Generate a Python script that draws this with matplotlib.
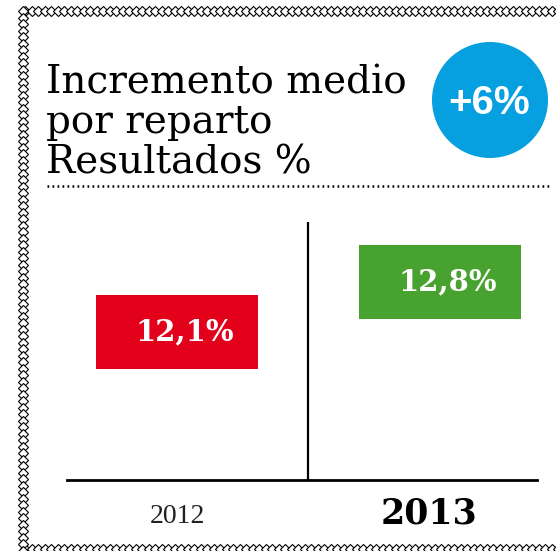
import numpy as np
import matplotlib.pyplot as plt
from matplotlib.patches import Circle

# Data
years = ["2012", "2013"]
values = [12.1, 12.8]
value_labels = ["12,1%", "12,8%"]
colors = ["#E2001A", "#48A22F"]
title_lines = ["Incremento medio", "por reparto", "Resultados %"]
badge = "+6%"

W, H = 556, 551
fig = plt.figure(figsize=(W / 100, H / 100), dpi=100)

# background layer in pixel coords
bg = fig.add_axes([0, 0, 1, 1])
bg.set_xlim(0, W)
bg.set_ylim(H, 0)
bg.axis("off")

# zigzag border (left, top, bottom)
step = 6.5
xs_top = np.arange(25, W + step, step)
ys_left = np.arange(11, H, step)
for xs, ys in [(xs_top, np.full_like(xs_top, 11)),
               (xs_top, np.full_like(xs_top, 549)),
               (np.full_like(ys_left, 23), ys_left)]:
    bg.plot(xs, ys, ls="none", marker="D", ms=4.6,
            mfc="white", mec="black", mew=0.8)

# title
for i, line in enumerate(title_lines):
    bg.text(46, 93 + i * 40, line, fontsize=28, family="DejaVu Serif",
            ha="left", va="baseline", color="black")

# badge
bg.add_patch(Circle((490, 100), 58, color="#069FDF", lw=0))
bg.text(489, 103, badge, fontsize=29, fontweight="bold", family="Liberation Sans",
        color="white", ha="center", va="center")

# dotted rule
bg.plot([47, 551], [186, 186], color="black", lw=1.8, ls=(0, (0.7, 1.3)))

# chart axes
ax = fig.add_axes([67 / W, 1 - 480 / H, 470 / W, 258 / H])
ax.set_xlim(-0.418, 1.369)
ax.set_ylim(10.03, 13.64)
ax.patch.set_alpha(0)
for s in ["top", "right", "left"]:
    ax.spines[s].set_visible(False)
ax.spines["bottom"].set_linewidth(2)
ax.set_xticks([])
ax.set_yticks([])

x = np.arange(len(years))
half = 0.52
ax.bar(x, [2 * half] * len(values), bottom=np.array(values) - half,
       width=0.616, color=colors, zorder=2)
ax.axvline(0.5, color="black", lw=1.6)

for xi, v, lab in zip(x, values, value_labels):
    ax.text(xi + 0.03, v, lab, color="white", fontsize=21, fontweight="bold",
            family="DejaVu Serif", ha="center", va="center", zorder=3)

trans = ax.get_xaxis_transform()
ax.text(0, -0.14, years[0], transform=trans, fontsize=20, family="Liberation Serif",
        ha="center", va="center", color="#222222")
ax.text(0.96, -0.13, years[1], transform=trans, fontsize=25, fontweight="bold",
        family="DejaVu Serif", ha="center", va="center", color="black")

fig.savefig("out.png", dpi=100)
